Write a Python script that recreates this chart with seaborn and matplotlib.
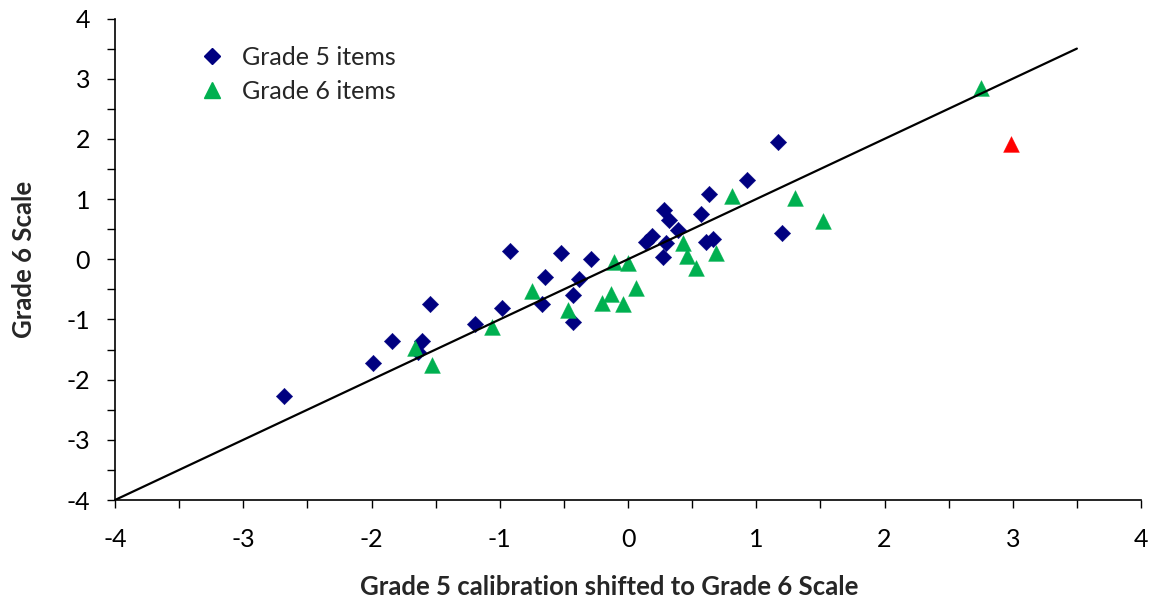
import matplotlib
matplotlib.use("Agg")
import matplotlib.pyplot as plt
import seaborn as sns
import pandas as pd
from matplotlib.lines import Line2D
from matplotlib.ticker import MultipleLocator

# Grade 5 items (navy diamonds)
g5_x = [-2.68, -1.99, -1.84, -1.61, -1.64, -1.54, -1.19, -0.98, -0.92, -0.67,
        -0.65, -0.52, -0.43, -0.43, -0.38, -0.29, 0.14, 0.19, 0.27, 0.28,
        0.32, 0.30, 0.39, 0.57, 0.63, 0.61, 0.66, 0.93, 1.17, 1.20]
g5_y = [-2.28, -1.73, -1.36, -1.35, -1.54, -0.74, -1.08, -0.81, 0.14, -0.74,
        -0.29, 0.11, -0.60, -1.05, -0.33, 0.00, 0.28, 0.38, 0.03, 0.81,
        0.66, 0.27, 0.49, 0.75, 1.08, 0.29, 0.33, 1.32, 1.94, 0.43]

# Grade 6 items (green triangles)
g6_x = [-1.66, -1.53, -1.06, -0.75, -0.47, -0.20, -0.13, -0.04, 0.06, -0.11,
        0.00, 0.43, 0.46, 0.53, 0.69, 0.81, 1.30, 1.52, 2.75]
g6_y = [-1.48, -1.75, -1.12, -0.53, -0.85, -0.72, -0.57, -0.74, -0.47, -0.05,
        -0.06, 0.27, 0.06, -0.15, 0.10, 1.05, 1.01, 0.64, 2.84]

# Outlier item (red triangle)
out_x = [2.99]
out_y = [1.91]

# Identity line
line_x = [-4.0, 3.5]
line_y = [-4.0, 3.5]

xticks = [-4, -3, -2, -1, 0, 1, 2, 3, 4]
yticks = [-4, -3, -2, -1, 0, 1, 2, 3, 4]
legend_labels = ["Grade 5 items", "Grade 6 items"]
x_label = "Grade 5 calibration shifted to Grade 6 Scale"
y_label = "Grade 6 Scale"

NAVY = "#000080"
GREEN = "#00B050"
RED = "#FF0000"

sns.set_style("white")
plt.rcParams["font.family"] = ["Lato", "DejaVu Sans"]

fig = plt.figure(figsize=(11.55, 6.08), dpi=100)
ax = fig.add_axes([115 / 1155, 1 - 500 / 608, (1141 - 115) / 1155, (500 - 18.5) / 608])

df5 = pd.DataFrame({"x": g5_x, "y": g5_y})
df6 = pd.DataFrame({"x": g6_x, "y": g6_y})
dfo = pd.DataFrame({"x": out_x, "y": out_y})
dfl = pd.DataFrame({"x": line_x, "y": line_y})

sns.scatterplot(data=df5, x="x", y="y", marker="D", s=70, color=NAVY,
                edgecolor=NAVY, linewidth=0.3, ax=ax, zorder=3, legend=False)
sns.scatterplot(data=df6, x="x", y="y", marker="^", s=130, color=GREEN,
                edgecolor=GREEN, linewidth=0.3, ax=ax, zorder=4, legend=False)
sns.scatterplot(data=dfo, x="x", y="y", marker="^", s=130, color=RED,
                edgecolor=RED, linewidth=0.3, ax=ax, zorder=4, legend=False)
sns.lineplot(data=dfl, x="x", y="y", color="black", linewidth=1.6, ax=ax,
             zorder=5, legend=False)

ax.set_xlim(-4, 4)
ax.set_ylim(-4, 4)
ax.set_xticks(xticks)
ax.set_yticks(yticks)
ax.set_xticklabels([str(t) for t in xticks])
ax.set_yticklabels([str(t) for t in yticks])
ax.xaxis.set_minor_locator(MultipleLocator(0.5))
ax.yaxis.set_minor_locator(MultipleLocator(0.5))
ax.tick_params(axis="both", which="both", direction="out", length=6, width=1,
               color="black", bottom=True, left=True)
ax.tick_params(axis="both", which="major", labelsize=18, labelcolor="black")
ax.tick_params(axis="x", which="major", pad=14)
ax.tick_params(axis="y", which="major", pad=12)

for side in ["top", "right"]:
    ax.spines[side].set_visible(False)
for side in ["left", "bottom"]:
    ax.spines[side].set_color("black")
    ax.spines[side].set_linewidth(1.2)

ax.set_xlabel(x_label, fontsize=18.5, fontweight="bold")
ax.xaxis.set_label_coords((609 - 115) / 1026, -0.155)
ax.set_ylabel(y_label, fontsize=18.5, fontweight="bold", labelpad=22)

handles = [
    Line2D([0], [0], marker="D", color="none", markerfacecolor=NAVY,
           markeredgecolor=NAVY, markersize=8),
    Line2D([0], [0], marker="^", color="none", markerfacecolor=GREEN,
           markeredgecolor=GREEN, markersize=11),
]
ax.legend(handles, legend_labels, loc="upper left", bbox_to_anchor=(0.058, 0.99),
          frameon=False, fontsize=18, handletextpad=0.6, labelspacing=0.45,
          handlelength=1.2)

fig.savefig("out.png", dpi=100)
